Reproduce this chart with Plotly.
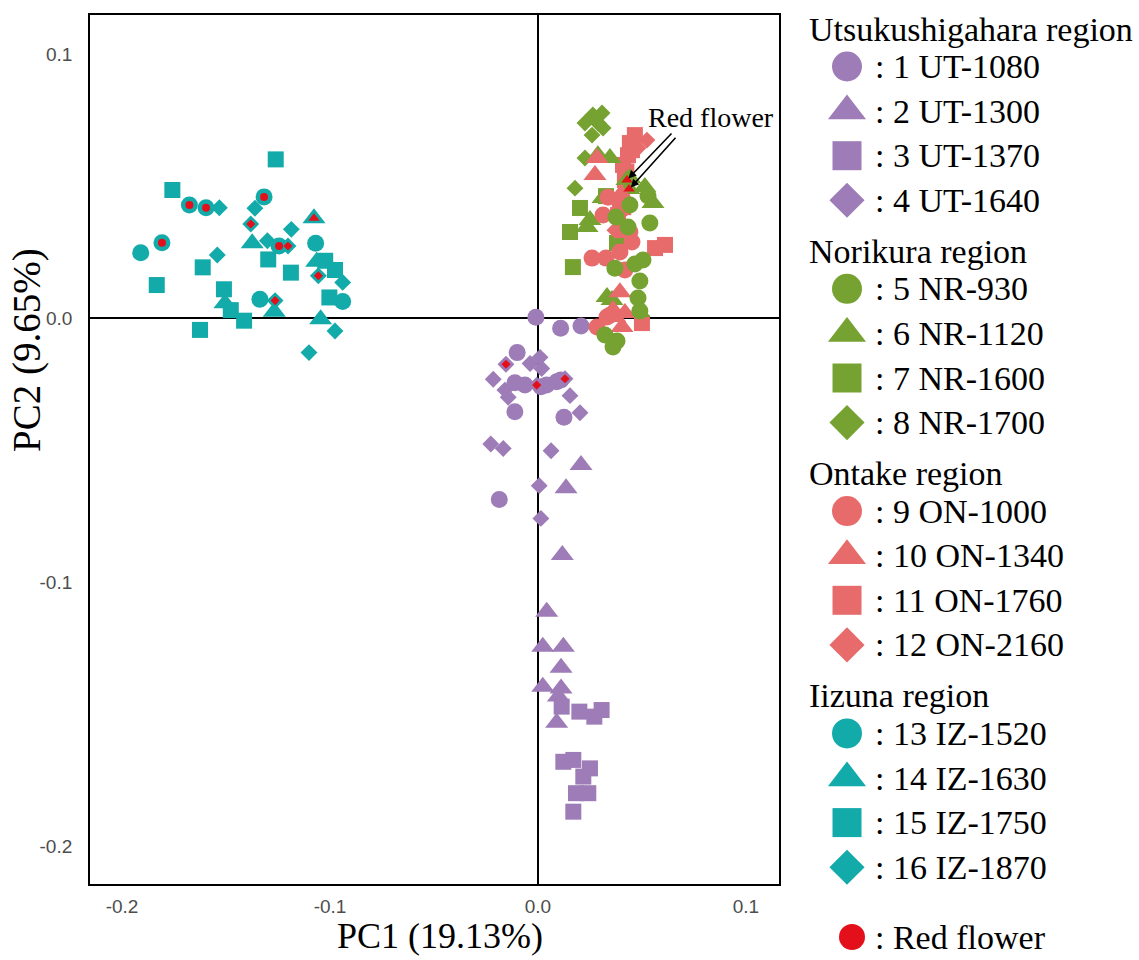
import plotly.graph_objects as go

# ---------------- data (PC1, PC2 scores) ----------------
REGIONS = ["Utsukushigahara region", "Norikura region", "Ontake region", "Iizuna region"]
REGION_COLORS = ["#9E7CB7", "#75A231", "#E86B6B", "#13AAAA"]
RED_FLOWER_COLOR = "#E3101C"
SYMBOLS = ["circle", "triangle-up", "square", "diamond"]
POP_LABELS = [
    [": 1 UT-1080", ": 2 UT-1300", ": 3 UT-1370", ": 4 UT-1640"],
    [": 5 NR-930", ": 6 NR-1120", ": 7 NR-1600", ": 8 NR-1700"],
    [": 9 ON-1000", ": 10 ON-1340", ": 11 ON-1760", ": 12 ON-2160"],
    [": 13 IZ-1520", ": 14 IZ-1630", ": 15 IZ-1750", ": 16 IZ-1870"],
]
X_TICKS = [-0.2, -0.1, 0.0, 0.1]
X_TICK_TEXT = ["-0.2", "-0.1", "0.0", "0.1"]
Y_TICKS = [-0.2, -0.1, 0.0, 0.1]
Y_TICK_TEXT = ["-0.2", "-0.1", "0.0", "0.1"]

# Utsukushigahara
ut1080_x = [-0.0010, 0.0109, 0.0207, -0.0100, -0.0111, -0.0063, 0.0042, 0.0090, -0.0111, 0.0125, -0.0186, 0.0015, 0.0110]
ut1080_y = [0.0003, -0.0039, -0.0030, -0.0131, -0.0245, -0.0254, -0.0254, -0.0241, -0.0355, -0.0376, -0.0687, -0.0260, -0.0235]
ut1080_red = [0] * 13
ut1300_x = [0.0207, 0.0135, 0.0117, 0.0042, 0.0023, 0.0122, 0.0111, 0.0023, 0.0111, 0.0098, 0.0090]
ut1300_y = [-0.0557, -0.0645, -0.0898, -0.1113, -0.1245, -0.1245, -0.1325, -0.1397, -0.1403, -0.1434, -0.1533]
ut1300_red = [0] * 11
ut1370_x = [0.0114, 0.0199, 0.0271, 0.0306, 0.0122, 0.0170, 0.0250, 0.0218, 0.0183, 0.0242, 0.0170]
ut1370_y = [-0.1472, -0.1491, -0.1510, -0.1485, -0.1681, -0.1674, -0.1706, -0.1737, -0.1800, -0.1800, -0.1870]
ut1370_red = [0] * 11
ut1640_x = [-0.0154, 0.0010, -0.0038, 0.0018, -0.0215, -0.0006, 0.0130, -0.0159, -0.0143, 0.0154, 0.0202, -0.0227, -0.0167, 0.0063, 0.0006, 0.0014]
ut1640_y = [-0.0175, -0.0149, -0.0172, -0.0191, -0.0232, -0.0254, -0.0230, -0.0273, -0.0300, -0.0294, -0.0359, -0.0477, -0.0494, -0.0503, -0.0635, -0.0759]
ut1640_red = [1, 0, 0, 0, 0, 1, 1, 0, 0, 0, 0, 0, 0, 0, 0, 0]

# Norikura
nr930_x = [0.0375, 0.0433, 0.0538, 0.0370, 0.0466, 0.0505, 0.0490, 0.0481, 0.0490, 0.0322, 0.0380, 0.0361, 0.0442, 0.0529]
nr930_y = [0.0383, 0.0345, 0.0360, 0.0189, 0.0205, 0.0220, 0.0140, 0.0076, 0.0027, -0.0064, -0.0087, -0.0110, 0.0428, 0.0462]
nr930_red = [0] * 14
nr1120_x = [0.0288, 0.0346, 0.0442, 0.0514, 0.0553, 0.0313, 0.0250, 0.0236, 0.0332, 0.0356, 0.0486, 0.0428, 0.0438]
nr1120_y = [0.0617, 0.0606, 0.0530, 0.0496, 0.0436, 0.0455, 0.0371, 0.0345, 0.0080, 0.0068, 0.0023, 0.0523, 0.0489]
nr1120_red = [0, 0, 0, 0, 0, 0, 0, 0, 0, 0, 0, 1, 1]
nr1600_x = [0.0202, 0.0154, 0.0168, 0.0380, 0.0327]
nr1600_y = [0.0417, 0.0326, 0.0193, 0.0284, 0.0462]
nr1600_red = [0] * 5
nr1700_x = [0.0226, 0.0264, 0.0308, 0.0313, 0.0260, 0.0226, 0.0178, 0.0288]
nr1700_y = [0.0739, 0.0769, 0.0777, 0.0720, 0.0693, 0.0606, 0.0492, 0.0739]
nr1700_red = [0] * 8

# Ontake
on1000_x = [0.0337, 0.0313, 0.0260, 0.0327, 0.0394, 0.0452, 0.0332, 0.0284, 0.0346, 0.0442, 0.0418, 0.0400]
on1000_y = [0.0458, 0.0390, 0.0227, 0.0227, 0.0250, 0.0288, 0.0004, -0.0034, 0.0011, 0.0326, 0.0182, 0.0410]
on1000_red = [0] * 12
on1340_x = [0.0284, 0.0274, 0.0394, 0.0418, 0.0370, 0.0404, 0.0361, 0.0400]
on1340_y = [0.0606, 0.0542, 0.0098, 0.0019, 0.0004, -0.0034, 0.0030, 0.0470]
on1340_red = [0] * 8
on1760_x = [0.0466, 0.0442, 0.0433, 0.0409, 0.0418, 0.0394, 0.0385, 0.0404, 0.0563, 0.0611, 0.0500, 0.0452, 0.0425, 0.0410]
on1760_y = [0.0693, 0.0663, 0.0617, 0.0580, 0.0523, 0.0447, 0.0390, 0.0333, 0.0265, 0.0277, -0.0019, 0.0636, 0.0555, 0.0420]
on1760_red = [0] * 14
on2160_x = [0.0524, 0.0481, 0.0423, 0.0370]
on2160_y = [0.0674, 0.0644, 0.0485, 0.0333]
on2160_red = [0] * 4

# Iizuna
iz1520_x = [-0.1910, -0.1808, -0.1676, -0.1596, -0.1317, -0.1245, -0.1069, -0.1337, -0.0939]
iz1520_y = [0.0247, 0.0285, 0.0428, 0.0418, 0.0459, 0.0273, 0.0283, 0.0071, 0.0063]
iz1520_red = [0, 1, 1, 1, 1, 1, 0, 0, 0]
iz1630_x = [-0.1374, -0.1077, -0.1064, -0.1505, -0.1268, -0.1045]
iz1630_y = [0.0283, 0.0378, 0.0213, 0.0056, 0.0024, -0.0005]
iz1630_red = [0, 1, 0, 0, 0, 0]
iz1750_x = [-0.1261, -0.1758, -0.1612, -0.1833, -0.1297, -0.1188, -0.1510, -0.1477, -0.1413, -0.1625, -0.1023, -0.0976, -0.1003]
iz1750_y = [0.0601, 0.0485, 0.0192, 0.0125, 0.0222, 0.0172, 0.0109, 0.0030, -0.0010, -0.0045, 0.0217, 0.0182, 0.0078]
iz1750_red = [0] * 13
iz1870_x = [-0.1532, -0.1361, -0.1381, -0.1186, -0.1301, -0.1202, -0.1542, -0.1056, -0.0939, -0.1264, -0.0976, -0.1101]
iz1870_y = [0.0418, 0.0416, 0.0356, 0.0336, 0.0293, 0.0273, 0.0239, 0.0160, 0.0135, 0.0066, -0.0049, -0.0131]
iz1870_red = [0, 0, 1, 0, 0, 1, 0, 1, 0, 1, 0, 0]

# (region index, symbol index, x, y, red flags) in drawing order
populations = [
    (0, 0, ut1080_x, ut1080_y, ut1080_red),
    (0, 1, ut1300_x, ut1300_y, ut1300_red),
    (0, 2, ut1370_x, ut1370_y, ut1370_red),
    (0, 3, ut1640_x, ut1640_y, ut1640_red),
    (3, 2, iz1750_x, iz1750_y, iz1750_red),
    (3, 0, iz1520_x, iz1520_y, iz1520_red),
    (3, 1, iz1630_x, iz1630_y, iz1630_red),
    (3, 3, iz1870_x, iz1870_y, iz1870_red),
    (1, 3, nr1700_x, nr1700_y, nr1700_red),
    (1, 2, nr1600_x, nr1600_y, nr1600_red),
    (2, 2, on1760_x, on1760_y, on1760_red),
    (2, 3, on2160_x, on2160_y, on2160_red),
    (1, 1, nr1120_x, nr1120_y, nr1120_red),
    (2, 1, on1340_x, on1340_y, on1340_red),
    (2, 0, on1000_x, on1000_y, on1000_red),
    (1, 0, nr930_x, nr930_y, nr930_red),
]

# ---------------- styling ----------------
PLOT_SIZE = {"circle": 17, "triangle-up": 20, "square": 16, "diamond": 13}
RED_SIZE = {"circle": 8, "triangle-up": 10, "square": 8, "diamond": 7}
LEG_SIZE = {"circle": 30, "triangle-up": 33, "square": 29, "diamond": 27}
SERIF = "Liberation Serif, Times New Roman, serif"
SANS = "Liberation Sans, Arial, sans-serif"

fig = go.Figure()

for reg, sym_i, xs, ys, reds in populations:
    sym = SYMBOLS[sym_i]
    fig.add_trace(go.Scatter(
        x=xs, y=ys, mode="markers", xaxis="x", yaxis="y",
        marker=dict(symbol=sym, size=PLOT_SIZE[sym], color=REGION_COLORS[reg], line=dict(width=0)),
        name=POP_LABELS[reg][sym_i], hoverinfo="x+y+name",
    ))

# red-flower overlays
for reg, sym_i, xs, ys, reds in populations:
    sym = SYMBOLS[sym_i]
    rx = [x for x, r in zip(xs, reds) if r]
    ry = [y for y, r in zip(ys, reds) if r]
    if rx:
        fig.add_trace(go.Scatter(
            x=rx, y=ry, mode="markers", xaxis="x", yaxis="y",
            marker=dict(symbol=sym, size=RED_SIZE[sym], color=RED_FLOWER_COLOR, line=dict(width=0)),
            hoverinfo="skip",
        ))

# ---------------- custom legend (axes x2/y2 in pixel units) ----------------
annotations = []
LEG_SYM_X = 847
LEG_TEXT_X = 873
LEG_TITLE_X = 807
LEG_FONT = dict(family=SERIF, size=34, color="black")
for r, region in enumerate(REGIONS):
    ty = 29 + 222.3 * r
    annotations.append(dict(x=LEG_TITLE_X, y=ty, xref="x2", yref="y2", text=region, showarrow=False,
                            xanchor="left", yanchor="middle", font=LEG_FONT))
    iy = [ty + 37.5 + 44.6 * i for i in range(4)]
    for i in range(4):
        sym = SYMBOLS[i]
        fig.add_trace(go.Scatter(
            x=[LEG_SYM_X], y=[iy[i]], mode="markers", xaxis="x2", yaxis="y2",
            marker=dict(symbol=sym, size=LEG_SIZE[sym], color=REGION_COLORS[r], line=dict(width=0)),
            hoverinfo="skip",
        ))
        annotations.append(dict(x=LEG_TEXT_X, y=iy[i], xref="x2", yref="y2", text=POP_LABELS[r][i],
                                showarrow=False, xanchor="left", yanchor="middle", font=LEG_FONT))
fig.add_trace(go.Scatter(
    x=[852], y=[937], mode="markers", xaxis="x2", yaxis="y2",
    marker=dict(symbol="circle", size=26, color=RED_FLOWER_COLOR, line=dict(width=0)),
    hoverinfo="skip",
))
annotations.append(dict(x=LEG_TEXT_X, y=937, xref="x2", yref="y2", text=": Red flower", showarrow=False,
                        xanchor="left", yanchor="middle", font=LEG_FONT))

# "Red flower" label with two arrows
annotations.append(dict(x=0.0832, y=0.0761, xref="x", yref="y", text="Red flower", showarrow=False,
                        xanchor="center", yanchor="middle", font=dict(family=SERIF, size=28, color="black")))
for hx, hy, tx, ty in [(0.0428, 0.0523, 0.0649, 0.0705), (0.0440, 0.0489, 0.0668, 0.0689)]:
    annotations.append(dict(x=hx, y=hy, ax=tx, ay=ty, xref="x", yref="y", axref="x", ayref="y",
                            text="", showarrow=True, arrowhead=2, arrowsize=1, arrowwidth=1.6,
                            arrowcolor="black", standoff=2))

# axis titles
annotations.append(dict(x=440 / 1139, y=1 - 936 / 960, xref="paper", yref="paper", text="PC1 (19.13%)",
                        showarrow=False, xanchor="center", yanchor="middle",
                        font=dict(family=SERIF, size=36, color="black")))
annotations.append(dict(x=27 / 1139, y=1 - 350 / 960, xref="paper", yref="paper", text="PC2 (9.65%)",
                        showarrow=False, xanchor="center", yanchor="middle", textangle=-90,
                        font=dict(family=SERIF, size=39, color="black")))

fig.update_layout(
    width=1139, height=960,
    margin=dict(l=0, r=0, t=0, b=0),
    paper_bgcolor="white", plot_bgcolor="white",
    showlegend=False,
    annotations=annotations,
    xaxis=dict(domain=[90 / 1139, 779 / 1139], range=[-0.2154, 0.1159], anchor="y",
               tickvals=X_TICKS, ticktext=X_TICK_TEXT, showgrid=False,
               zeroline=True, zerolinecolor="black", zerolinewidth=1.5,
               showline=True, mirror=True, linecolor="black", linewidth=1.8,
               ticks="outside", ticklen=4, tickcolor="rgba(0,0,0,0)",
               tickfont=dict(family=SANS, size=19, color="#4D4D4D")),
    yaxis=dict(domain=[76 / 960, 945 / 960], range=[-0.2144, 0.1148], anchor="x",
               tickvals=Y_TICKS, ticktext=Y_TICK_TEXT, showgrid=False,
               zeroline=True, zerolinecolor="black", zerolinewidth=1.5,
               showline=True, mirror=True, linecolor="black", linewidth=1.8,
               ticks="outside", ticklen=12, tickcolor="rgba(0,0,0,0)",
               tickfont=dict(family=SANS, size=19, color="#4D4D4D")),
    xaxis2=dict(domain=[790 / 1139, 1], range=[790, 1139], anchor="y2", visible=False),
    yaxis2=dict(domain=[0, 1], range=[960, 0], anchor="x2", visible=False),
)

fig.write_html("out.html")
